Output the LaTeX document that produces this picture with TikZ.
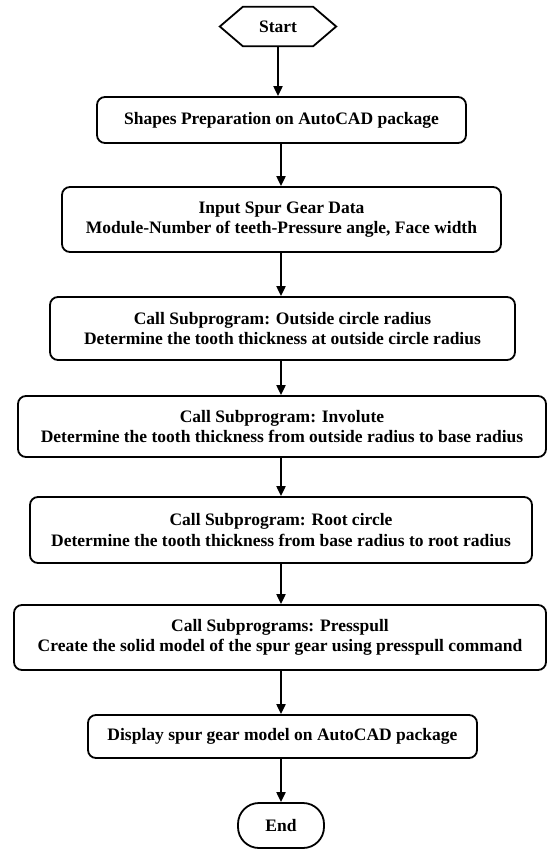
\documentclass[tikz,border=0pt]{standalone}
\usepackage{fontspec}
\setmainfont{Liberation Serif}
\usetikzlibrary{arrows.meta}
\begin{document}
\begin{tikzpicture}[x=1pt,y=1pt,
  txt/.style={font=\fontsize{17.5}{20.5}\selectfont\bfseries, align=center, inner sep=0pt},
  box/.style={txt, draw, line width=1.8pt, rounded corners=8pt},
  arr/.style={line width=2pt, -{Triangle[length=10pt,width=9pt]}}]
\useasboundingbox (0,0) rectangle (547,-850);
\node[txt, minimum width=116pt, minimum height=39pt] (start) at (278,-26.5) {Start};
\draw[line width=1.8pt, line join=miter] (start.west) -- ([xshift=23pt]start.north west) -- ([xshift=-23pt]start.north east) -- (start.east) -- ([xshift=-23pt]start.south east) -- ([xshift=23pt]start.south west) -- cycle;
\node[box, minimum width=369pt, minimum height=46pt] (b1) at (281.5,-120) {Shapes Preparation on AutoCAD package};
\node[box, minimum width=439pt, minimum height=65pt] (b2) at (281.5,-219.5) {Input Spur Gear Data\\Module-Number of teeth-Pressure angle, Face width};
\node[box, minimum width=465pt, minimum height=63pt] (b3) at (282.5,-328.5) {Call Subprogram: Outside circle radius\\Determine the tooth thickness at outside circle radius};
\node[box, minimum width=528pt, minimum height=61pt] (b4) at (282,-426.5) {Call Subprogram: Involute\\Determine the tooth thickness from outside radius to base radius};
\node[box, minimum width=502pt, minimum height=66pt] (b5) at (281,-530) {Call Subprogram: Root circle\\Determine the tooth thickness from base radius to root radius};
\node[box, minimum width=532pt, minimum height=65pt] (b6) at (280,-637.5) {Call Subprograms: Presspull\\Create the solid model of the spur gear using presspull command};
\node[box, minimum width=389pt, minimum height=43pt] (b7) at (282.5,-736.5) {Display spur gear model on AutoCAD package};
\node[box, minimum width=86pt, minimum height=45pt, rounded corners=21pt] (e) at (281,-825.5) {End};
\draw[arr] (start.south) -- (start.south |- b1.north);
\draw[arr] (b1.south -| e.north) -- (b2.north -| e.north);
\draw[arr] (b2.south -| e.north) -- (b3.north -| e.north);
\draw[arr] (b3.south -| e.north) -- (b4.north -| e.north);
\draw[arr] (b4.south -| e.north) -- (b5.north -| e.north);
\draw[arr] (b5.south -| e.north) -- (b6.north -| e.north);
\draw[arr] (b6.south -| e.north) -- (b7.north -| e.north);
\draw[arr] (b7.south -| e.north) -- (e.north);
\end{tikzpicture}
\end{document}
